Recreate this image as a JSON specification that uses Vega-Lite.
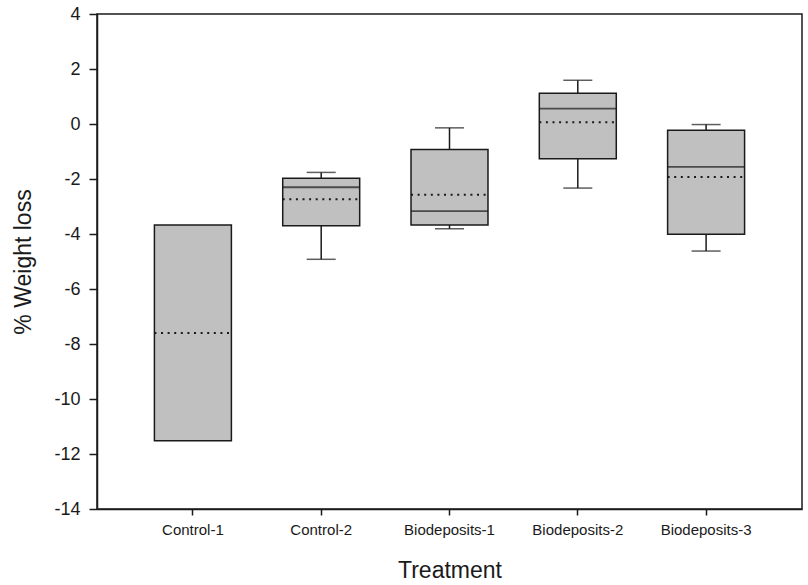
{
  "$schema": "https://vega.github.io/schema/vega-lite/v6.json",
  "autosize": "none",
  "width": 705,
  "height": 495,
  "padding": {"left": 97, "top": 14, "right": 6, "bottom": 76},
  "background": "white",
  "config": {
    "view": {"stroke": "#1a1a1a", "strokeWidth": 1.5},
    "font": "Liberation Sans",
    "axis": {"domainColor": "#1a1a1a", "domainWidth": 1.5, "tickColor": "#1a1a1a", "tickWidth": 1.5, "labelColor": "#1a1a1a", "titleColor": "#1a1a1a", "labelFont": "Liberation Sans", "titleFont": "Liberation Sans", "titleFontWeight": "normal", "grid": false}
  },
  "data": {
    "values": [
      {"treatment": "Control-1", "q1": -11.52, "q3": -3.67, "median": null, "mean": -7.6, "lo": null, "hi": null},
      {"treatment": "Control-2", "q1": -3.7, "q3": -1.97, "median": -2.3, "mean": -2.74, "lo": -4.92, "hi": -1.76},
      {"treatment": "Biodeposits-1", "q1": -3.67, "q3": -0.93, "median": -3.17, "mean": -2.57, "lo": -3.81, "hi": -0.14},
      {"treatment": "Biodeposits-2", "q1": -1.26, "q3": 1.12, "median": 0.56, "mean": 0.06, "lo": -2.33, "hi": 1.59},
      {"treatment": "Biodeposits-3", "q1": -4.01, "q3": -0.23, "median": -1.56, "mean": -1.93, "lo": -4.62, "hi": -0.02}
    ]
  },
  "encoding": {
    "x": {
      "field": "treatment",
      "type": "nominal",
      "sort": ["Control-1", "Control-2", "Biodeposits-1", "Biodeposits-2", "Biodeposits-3"],
      "scale": {"domain": ["Control-1", "Control-2", "Biodeposits-1", "Biodeposits-2", "Biodeposits-3"], "paddingInner": 0.4, "paddingOuter": 0.4475},
      "axis": {"title": "Treatment", "labelAngle": 0, "labelFontSize": 15, "labelPadding": 7, "tickSize": 6, "titleFontSize": 23, "titlePadding": 22}
    }
  },
  "layer": [
    {
      "mark": {"type": "rule", "color": "#1a1a1a", "strokeWidth": 1.5},
      "encoding": {"y": {"field": "lo", "type": "quantitative", "scale": {"domain": [-14, 4], "nice": false, "zero": false}, "axis": {"title": "% Weight loss", "values": [-14, -12, -10, -8, -6, -4, -2, 0, 2, 4], "labelExpr": "'' + datum.value", "labelFontSize": 18, "labelPadding": 9, "tickSize": 8, "titleFontSize": 23, "titlePadding": 18}}, "y2": {"field": "q1"}}
    },
    {
      "mark": {"type": "rule", "color": "#1a1a1a", "strokeWidth": 1.5},
      "encoding": {"y": {"field": "q3", "type": "quantitative"}, "y2": {"field": "hi"}}
    },
    {
      "mark": {"type": "tick", "color": "#1a1a1a", "size": 29, "thickness": 1.5, "orient": "horizontal"},
      "encoding": {"y": {"field": "lo", "type": "quantitative"}}
    },
    {
      "mark": {"type": "tick", "color": "#1a1a1a", "size": 29, "thickness": 1.5, "orient": "horizontal"},
      "encoding": {"y": {"field": "hi", "type": "quantitative"}}
    },
    {
      "mark": {"type": "bar", "fill": "#c0c0c0", "stroke": "#1a1a1a", "strokeWidth": 1.5},
      "encoding": {"y": {"field": "q1", "type": "quantitative"}, "y2": {"field": "q3"}}
    },
    {
      "mark": {"type": "tick", "color": "#1a1a1a", "size": 77, "thickness": 1.8, "orient": "horizontal"},
      "encoding": {"y": {"field": "median", "type": "quantitative"}}
    },
    {
      "mark": {"type": "rule", "color": "#1a1a1a", "strokeWidth": 2, "strokeDash": [2, 4.6]},
      "encoding": {
        "x": {"field": "treatment", "type": "nominal", "bandPosition": 0},
        "x2": {"field": "treatment", "bandPosition": 1},
        "y": {"field": "mean", "type": "quantitative"}
      }
    }
  ]
}
